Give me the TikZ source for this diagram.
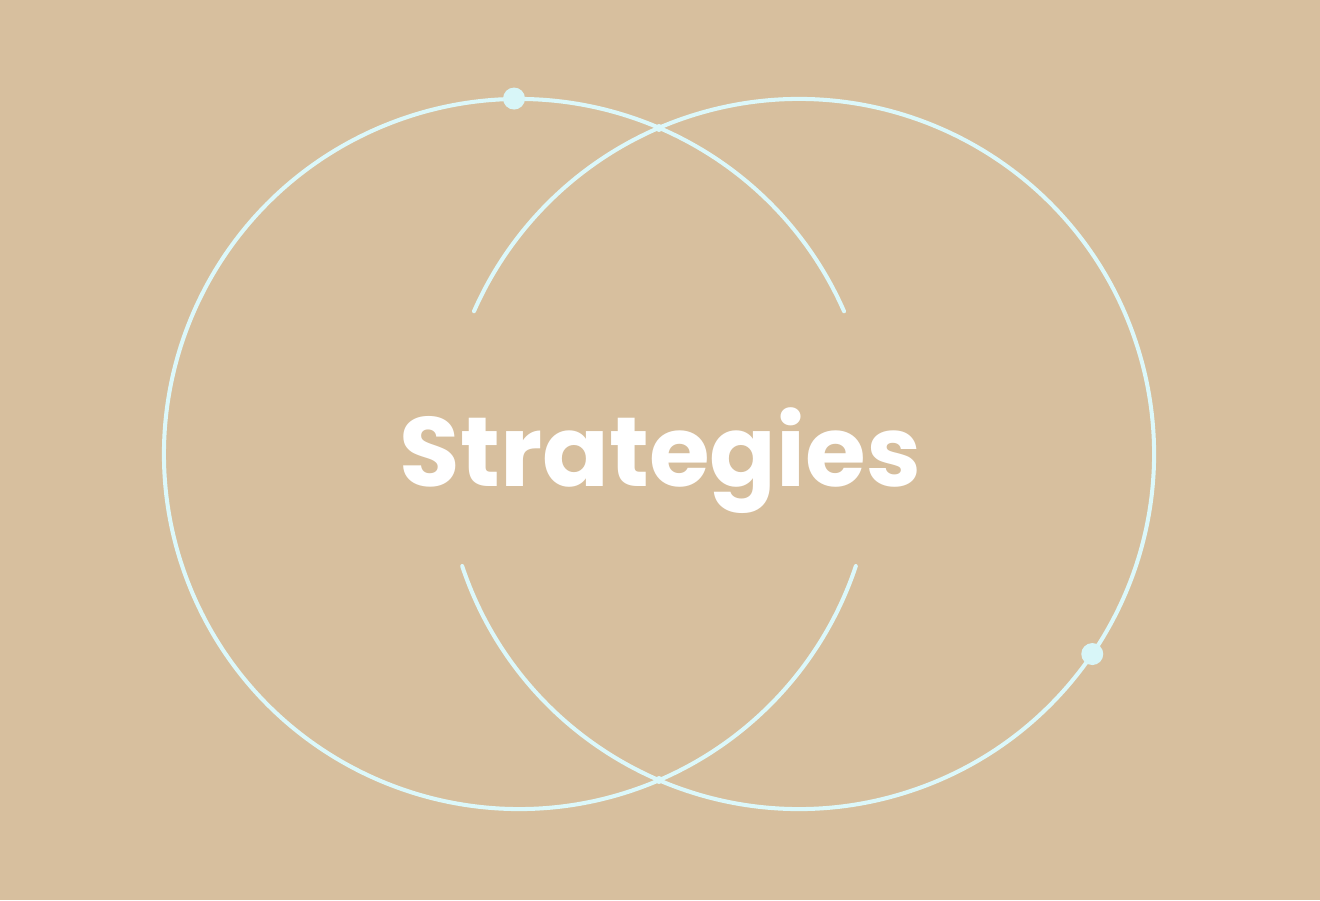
\documentclass[tikz,border=0pt]{standalone}
\usepackage{fontspec}
\newfontfamily\titlefont{Poppins}
\definecolor{sand}{HTML}{D7BF9E}
\definecolor{ring}{HTML}{DCF8FA}
\definecolor{ringdot}{HTML}{D8F6F8}
\tikzset{
  ringline/.style={draw=ring, line width=1.15pt, line cap=round},
  knot/.style={fill=ringdot},
}

\begin{document}
\begin{tikzpicture}
            \fill[sand] (0,0) rectangle (13.2,9);
            \coordinate (L) at (5.19,4.46);
            \coordinate (R) at (7.99,4.46);
            % two open rings
            \draw[ringline] (L) ++(23.7:3.55) arc (23.7:341.6:3.55);
            \draw[ringline] (R) ++(198.4:3.55) arc (198.4:516.3:3.55);
            % crossings
            \fill[ring] (6.59,7.72) circle(0.04);
            \fill[ring] (6.59,1.20) circle(0.04);
            % dots on the rings
            \fill[knot] (L) ++(90.8:3.555) circle(0.11);
            \fill[knot] (R) ++(-34.3:3.55) circle(0.11);
            \node[text=white, anchor=base, inner sep=0pt] (title) at (6.605,4.14) {\titlefont\bfseries\fontsize{28}{34}\selectfont Strategies};
        \end{tikzpicture}
\end{document}
